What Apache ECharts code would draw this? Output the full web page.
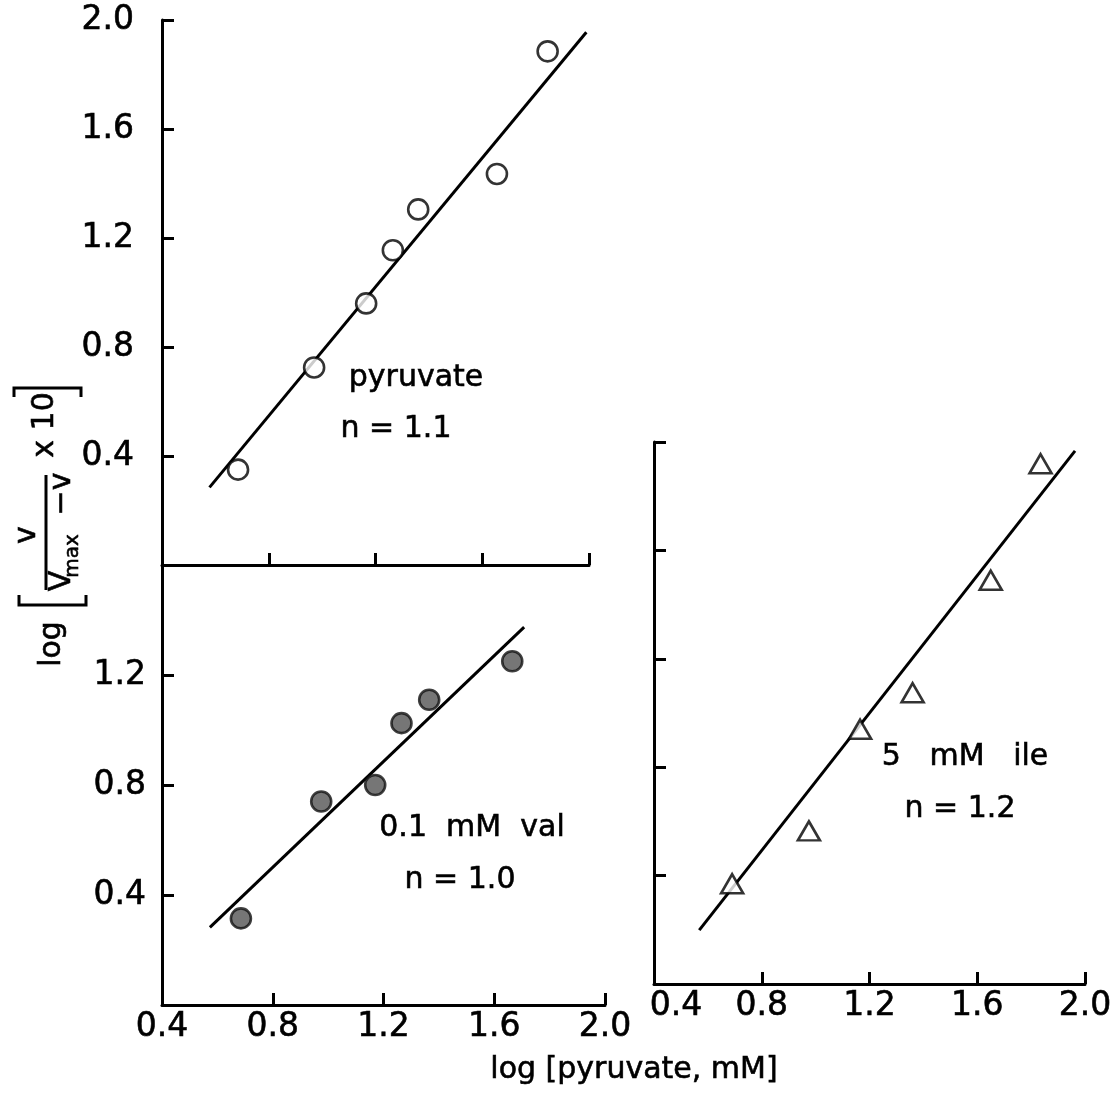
<!DOCTYPE html>
<html><head><meta charset="utf-8">
<script src="https://cdn.jsdelivr.net/npm/echarts@6/dist/echarts.min.js"></script>
<style>html,body{margin:0;padding:0;background:#fff}#c{width:1115px;height:1093px}</style>
</head><body><div id="c"></div>
<script>
// ---- data ----
const pyruvateX = [0.685, 0.97, 1.165, 1.265, 1.36, 1.655, 1.845];
const pyruvateY = [0.35, 0.725, 0.96, 1.155, 1.305, 1.435, 1.885];
const pyruvateFitX = [0.578, 1.99];
const pyruvateFitY = [0.285, 1.955];

const valX = [0.685, 0.975, 1.17, 1.265, 1.365, 1.665];
const valY = [0.315, 0.74, 0.80, 1.025, 1.11, 1.25];
const valFitX = [0.573, 1.708];
const valFitY = [0.282, 1.374];

const ileX = [0.69, 0.975, 1.165, 1.36, 1.65, 1.835];
const ileY = [0.37, 0.565, 0.94, 1.075, 1.49, 1.92];
const ileFitX = [0.568, 1.963];
const ileFitY = [0.199, 1.967];

const xTicks = [0.4, 0.8, 1.2, 1.6, 2.0];
const topYTicks = [0.4, 0.8, 1.2, 1.6, 2.0];
const valYTicks = [0.4, 0.8, 1.2];
const ileYTicks = [0.4, 0.8, 1.2, 1.6, 2.0];

const annPyruvate = ['pyruvate', 'n = 1.1'];
const annVal = ['0.1  mM  val', 'n = 1.0'];
const annIle = ['5   mM   ile', 'n = 1.2'];
const xTitle = 'log [pyruvate, mM]';

// ---- helpers ----
const zip = (a, b) => a.map((v, i) => [v, b[i]]);
const FONT = 'DejaVu Sans';
const fmt = v => Number(v).toFixed(1);
const lineSt = { color: '#000', width: 3 };
const TICK_FS = 33;

function xAxisCfg(grid, showLabels, minRich) {
  return {
    type: 'value', gridIndex: grid, min: 0.4, max: 2.0, interval: 0.4,
    axisLine: { show: true, onZero: false, lineStyle: lineSt },
    axisTick: { show: true, inside: true, length: 12, lineStyle: lineSt, customValues: xTicks },
    splitLine: { show: false },
    axisLabel: {
      show: showLabels, customValues: xTicks, margin: 6, color: '#000',
      fontFamily: FONT, fontSize: TICK_FS, textBorderColor: '#000', textBorderWidth: 0.6,
      formatter: v => (minRich && Math.abs(v - 0.4) < 1e-6) ? '{a|' + fmt(v) + '}' : fmt(v),
      rich: { a: { padding: [0, 0, 0, 44], color: '#000', fontFamily: FONT, fontSize: TICK_FS, textBorderColor: '#000', textBorderWidth: 0.6 } }
    }
  };
}
function yAxisCfg(grid, max, ticks, showLabels, margin) {
  return {
    type: 'value', gridIndex: grid, min: 0, max: max, interval: 0.4,
    axisLine: { show: true, onZero: false, lineStyle: lineSt },
    axisTick: { show: true, inside: true, length: 12, lineStyle: lineSt, customValues: ticks },
    splitLine: { show: false },
    axisLabel: {
      show: showLabels, customValues: ticks, margin: margin, color: '#000',
      fontFamily: FONT, fontSize: TICK_FS, textBorderColor: '#000', textBorderWidth: 0.6, formatter: fmt
    }
  };
}

const openCircle = { color: '#fff', borderColor: '#000', borderWidth: 2.6 };
const fillCircle = { color: '#545454', borderColor: '#111', borderWidth: 2.6 };
const triStyle = { color: '#fff', borderColor: '#000', borderWidth: 2.6 };
const fitStyle = { color: '#000', width: 3 };

function txt(x, y, s, size, rot) {
  return {
    type: 'text', x: x, y: y, rotation: rot || 0, silent: true,
    style: { text: s, fill: '#000', stroke: '#000', lineWidth: 0.6, font: 'normal ' + size + 'px "' + FONT + '"', align: 'center', verticalAlign: 'middle' }
  };
}
function poly(points) {
  return { type: 'polyline', silent: true, shape: { points: points }, style: { stroke: '#000', lineWidth: 3, fill: null } };
}
const R = Math.PI / 2;

const option = {
  animation: false,
  backgroundColor: '#fff',
  grid: [
    { left: 162, top: 20, width: 427, height: 545 },
    { left: 162, top: 565, width: 443, height: 440 },
    { left: 654, top: 442, width: 431, height: 542 }
  ],
  xAxis: [xAxisCfg(0, false, false), xAxisCfg(1, true, false), xAxisCfg(2, true, true)],
  yAxis: [yAxisCfg(0, 2.0, topYTicks, true, 28), yAxisCfg(1, 1.6, valYTicks, true, 16), yAxisCfg(2, 2.0, ileYTicks, false, 10)],
  series: [
    { type: 'line', xAxisIndex: 0, yAxisIndex: 0, data: zip(pyruvateFitX, pyruvateFitY), showSymbol: false, lineStyle: fitStyle, silent: true, z: 2 },
    { type: 'scatter', xAxisIndex: 0, yAxisIndex: 0, data: zip(pyruvateX, pyruvateY), symbol: 'circle', symbolSize: 20, itemStyle: openCircle, z: 3 },
    { type: 'line', xAxisIndex: 1, yAxisIndex: 1, data: zip(valFitX, valFitY), showSymbol: false, lineStyle: fitStyle, silent: true, z: 2 },
    { type: 'scatter', xAxisIndex: 1, yAxisIndex: 1, data: zip(valX, valY), symbol: 'circle', symbolSize: 20, itemStyle: fillCircle, z: 3 },
    { type: 'line', xAxisIndex: 2, yAxisIndex: 2, data: zip(ileFitX, ileFitY), showSymbol: false, lineStyle: fitStyle, silent: true, z: 2 },
    { type: 'scatter', xAxisIndex: 2, yAxisIndex: 2, data: zip(ileX, ileY), symbol: 'triangle', symbolSize: [22, 19], itemStyle: triStyle, z: 3 }
  ],
  graphic: [
    txt(416, 378, annPyruvate[0], 30),
    txt(396, 429, annPyruvate[1], 30),
    txt(472, 828, annVal[0], 30),
    txt(460, 880, annVal[1], 30),
    txt(965, 757, annIle[0], 30),
    txt(960, 809, annIle[1], 30),
    txt(634, 1070, xTitle, 30),
    // rotated y-axis title: log [ v / (Vmax - v) x 10 ]
    txt(52, 644, 'log', 30, R),
    poly([[19, 595], [19, 605], [86, 605], [86, 595]]),
    txt(27, 535, 'v', 30, R),
    poly([[46, 590], [46, 475]]),
    txt(62, 581, 'V', 30, R),
    txt(73, 556, 'max', 20, R),
    txt(62, 494, '\u2212v', 30, R),
    txt(45, 425, 'x 10', 30, R),
    poly([[14, 397], [14, 388], [81, 388], [81, 397]])
  ]
};
const chart = echarts.init(document.getElementById('c'));
chart.setOption(option);
</script>
</body></html>
